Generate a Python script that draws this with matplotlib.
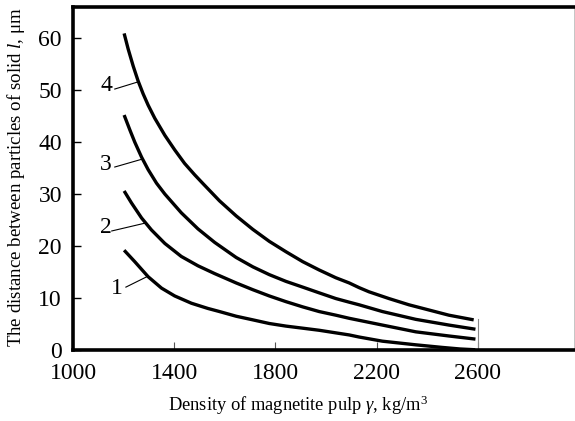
import matplotlib
matplotlib.use("Agg")
import matplotlib.pyplot as plt

plt.rcParams['font.family'] = ['Liberation Serif', 'DejaVu Serif']
plt.rcParams['mathtext.fontset'] = 'custom'
plt.rcParams['mathtext.rm'] = 'Liberation Serif'
plt.rcParams['mathtext.it'] = 'Liberation Serif:italic'

# curves: density (kg/m3) -> distance (um)
x4 = [1202, 1218, 1238, 1257, 1277, 1297, 1323, 1363, 1402, 1441, 1481, 1514,
      1579, 1645, 1711, 1776, 1842, 1908, 1973, 2039, 2092, 2131, 2170, 2249,
      2328, 2407, 2486, 2584]
y4 = [60.9, 57.9, 54.6, 51.8, 49.3, 47.1, 44.6, 41.3, 38.5, 35.9, 33.7, 32.0,
      28.7, 25.8, 23.2, 20.9, 18.9, 17.0, 15.4, 13.9, 12.9, 12.0, 11.2, 9.9,
      8.7, 7.7, 6.7, 5.8]

x3 = [1202, 1225, 1244, 1271, 1297, 1330, 1363, 1428, 1494, 1560, 1645, 1711,
      1776, 1842, 1908, 1973, 2039, 2092, 2131, 2223, 2355, 2486, 2591]
y3 = [45.2, 42.3, 40.0, 37.1, 34.7, 32.1, 30.0, 26.4, 23.3, 20.7, 17.8, 16.0,
      14.5, 13.2, 12.1, 11.0, 9.9, 9.2, 8.7, 7.4, 5.9, 4.8, 4.0]

x2 = [1202, 1231, 1271, 1310, 1363, 1428, 1494, 1560, 1645, 1711, 1776, 1842,
      1908, 1973, 2039, 2092, 2223, 2355, 2486, 2591]
y2 = [30.6, 28.3, 25.4, 23.1, 20.5, 18.0, 16.2, 14.7, 12.9, 11.6, 10.4, 9.3,
      8.3, 7.4, 6.7, 6.1, 4.8, 3.5, 2.7, 2.1]

x1 = [1202, 1244, 1297, 1350, 1402, 1468, 1533, 1579, 1645, 1711, 1776, 1842,
      1908, 1973, 2039, 2092, 2131, 2223, 2355, 2460, 2530, 2590]
y1 = [19.2, 17.0, 14.1, 11.9, 10.4, 9.0, 8.0, 7.4, 6.5, 5.8, 5.1, 4.6,
      4.2, 3.8, 3.3, 2.9, 2.5, 1.7, 1.0, 0.5, 0.2, 0.05]

curves = [(x1, y1), (x2, y2), (x3, y3), (x4, y4)]
curve_names = ['1', '2', '3', '4']
name_pos = [(1173, 11.9), (1130, 23.5), (1130, 35.6), (1134, 50.9)]
leaders = [((1209, 1296), (12.1, 14.2)), ((1153, 1284), (22.9, 24.4)),
           ((1165, 1272), (35.2, 36.7)), ((1165, 1252), (50.2, 51.5))]

xticks = [1000, 1400, 1800, 2200, 2600]
yticks = [0, 10, 20, 30, 40, 50, 60]

fig = plt.figure(figsize=(5.75, 4.21), dpi=100)
ax = fig.add_axes([0.127, 0.1686, 0.871, 0.815])

for xs, ys in curves:
    ax.plot(xs, ys, color='black', lw=2.4, solid_capstyle='butt',
            solid_joinstyle='round')

for name, (tx, ty), (lx, ly) in zip(curve_names, name_pos, leaders):
    ax.text(tx, ty, name, fontsize=17, ha='center', va='center')
    ax.plot(lx, ly, color='black', lw=0.8)

# thin grey line under the curve ends
ax.plot([2600, 2600], [0, 6], color='#888888', lw=0.8)

ax.set_xlim(1000, 2980)
ax.set_ylim(0, 66)
ax.set_xticks(xticks)
ax.set_yticks(yticks)
ax.tick_params(axis='x', direction='in', length=6, width=0.8, color='#555555',
               labelsize=17, pad=9)
ax.tick_params(axis='y', direction='in', length=6, width=1.0,
               labelsize=17, pad=8)
for sp in ax.spines.values():
    sp.set_linewidth(2.6)
ax.spines['right'].set_linewidth(0.6)
ax.spines['right'].set_color('#bbbbbb')

ax.set_xlabel(r'Density of magnetite pulp $\mathit{\gamma}$, kg/m$^3$',
              fontsize=13.3, va='center', ha='center')
ax.xaxis.set_label_coords(0.449, -0.160)
ax.set_ylabel(r'The distance between particles of solid $\mathit{l}$, μm',
              fontsize=13.6, va='center', ha='center')
ax.yaxis.set_label_coords(-0.114, 0.504)

fig.savefig('out.png', dpi=100)
